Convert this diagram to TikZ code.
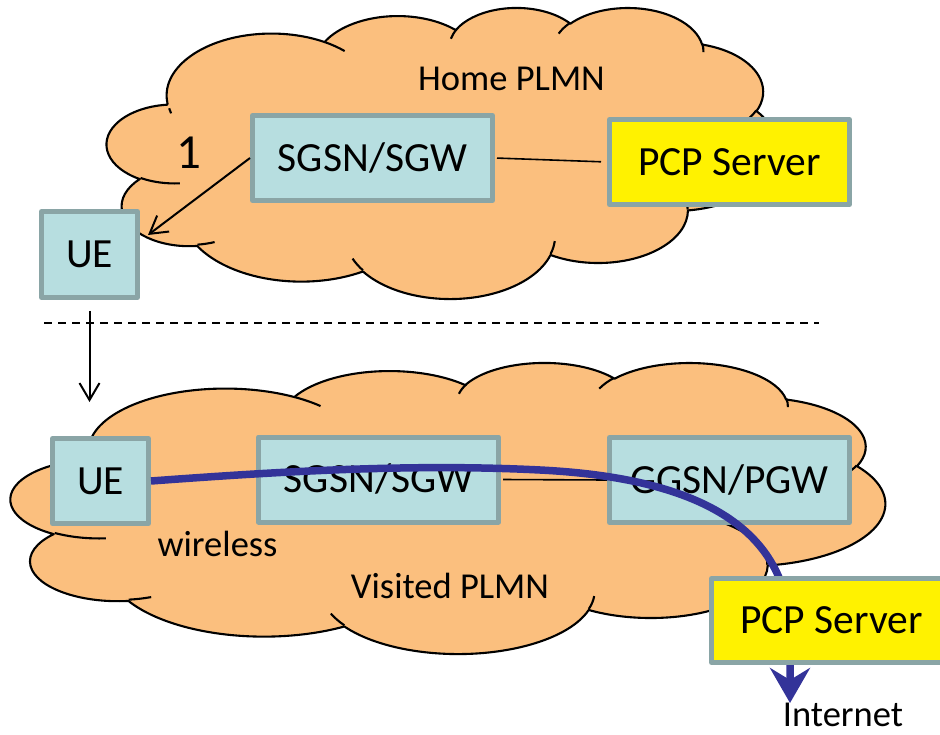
\documentclass[tikz,border=0pt]{standalone}
\usepackage{fontspec}
\setmainfont{Carlito}
\usetikzlibrary{arrows.meta}
\definecolor{cloudfill}{RGB}{251,191,126}
\definecolor{boxfill}{RGB}{183,222,224}
\definecolor{boxline}{RGB}{138,165,166}
\definecolor{pathblue}{RGB}{51,51,153}
\tikzset{declare function={par(\v,\k)=\v+atan(((\k-1)*sin(\v)*cos(\v))/(cos(\v)^2+\k*sin(\v)^2));}}
\newcommand\cldarc[4]{arc[x radius=#1, y radius=#2, start angle={par(#3,#1/#2)}, end angle={par(#3+#4,#1/#2)}]}
\newcommand\cloudoutline{(39.00,143.70)
 \cldarc{67.53}{91.90}{-190.4875}{123.7805}
 \cldarc{53.33}{72.67}{-144.1024}{89.9452}
 \cldarc{43.65}{59.45}{-145.8079}{99.7230}
 \cldarc{48.57}{65.95}{-130.9861}{117.2417}
 \cldarc{53.33}{72.73}{-78.7089}{109.0269}
 \cldarc{67.75}{92.20}{-46.2673}{130.2690}
 \cldarc{57.85}{78.67}{0.6250}{114.0333}
 \cldarc{67.52}{92.15}{22.4516}{115.1726}
 \cldarc{77.20}{105.43}{66.2426}{75.7110}
 \cldarc{43.60}{59.18}{-274.9421}{146.7356}
 \cldarc{43.45}{59.45}{-246.8285}{152.5189}
 -- cycle}
\newcommand\cloudinner{%
 (46.93,261.77) \cldarc{43.45}{59.45}{86.7420}{26.4295}
 (69.28,348.99) \cldarc{43.60}{59.18}{73.6105}{11.4475}
 (164.78,390.90) \cldarc{67.52}{92.15}{137.6242}{14.0811}
 (288.27,347.51) \cldarc{67.52}{92.15}{6.4533}{15.9984}
 (341.29,229.54) \cldarc{57.85}{78.67}{-70.2924}{70.9174}
 (417.98,153.54) \cldarc{53.33}{72.73}{30.3180}{27.7515}
 (383.24,54.26) \cldarc{48.57}{65.95}{-13.7443}{14.8589}
 (290.78,39.52) \cldarc{48.57}{65.95}{-149.1815}{18.1954}
 (221.41,47.20) \cldarc{43.65}{59.45}{-163.4943}{17.6864}
 (140.00,51.92) \cldarc{67.53}{91.90}{-66.7070}{12.3194}
 (41.27,157.89) \cldarc{67.53}{91.90}{159.6315}{6.2465}}
\tikzset{
 cloudline/.style={draw=black, line width=2.1pt, line join=round},
 netbox/.style={draw=boxline, fill=boxfill, line width=5pt, line join=round, inner sep=0pt,
   minimum width=240pt, minimum height=85pt, font=\fontsize{41.5}{50}\selectfont,
   text height=26.7pt, text depth=0pt},
 uebox/.style={netbox, minimum width=96pt, minimum height=86pt},
 pcpbox/.style={netbox, fill=yellow},
 lbl/.style={anchor=base, inner sep=0pt, font=\fontsize{36.5}{44}\selectfont},
 thinarrow/.style={line width=2pt, -{Straight Barb[length=17pt,width=20pt]}},
 plainlink/.style={line width=1.6pt},
 bluepath/.style={draw=pathblue, line width=7.5pt, -{Stealth[length=35pt,width=40pt,inset=12pt]}},
 sepline/.style={line width=1.6pt, dash pattern=on 7.5pt off 6.5pt}
}
\begin{document}
\begin{tikzpicture}[x=1pt, y=-1pt]
\useasboundingbox (0,0) rectangle (940,735);
% top cloud
\begin{scope}[shift={(107,7)}, x=1.55324pt, y=-0.67361pt]
 \path[fill=cloudfill] \cloudoutline;
 \path[cloudline] \cloudoutline;
 \path[cloudline] \cloudinner;
\end{scope}
% bottom cloud
\begin{scope}[shift={(11,362)}, x=2.02315pt, y=-0.67361pt]
 \path[fill=cloudfill] \cloudoutline;
 \path[cloudline] \cloudoutline;
 \path[cloudline] \cloudinner;
\end{scope}
% labels
\node[lbl] (home) at (511.5,91) {Home PLMN};
\node[lbl] (visited) at (450,598) {Visited PLMN};
\node[lbl] (wireless) at (217.5,556) {wireless};
\node[lbl] (internet) at (843,726) {Internet};
\node[lbl, font=\fontsize{49}{58}\selectfont] (one) at (188.5,169) {1};
% top boxes
\node[netbox] (sgsn1) at (372.5,158) {SGSN/SGW};
\node[pcpbox] (pcp1) at (729.5,162) {PCP Server};
\node[uebox] (ue1) at (89.5,254.5) {UE};
\draw[plainlink, shorten <=2pt, shorten >=6pt] (sgsn1.east) -- (pcp1.west);
\coordinate (a1end) at (148,235);
\draw[thinarrow] (sgsn1.west) -- (a1end);
% separator
\coordinate (sepL) at (44,323);
\coordinate (sepR) at (819,323);
\draw[sepline] (sepL) -- (sepR);
\coordinate (downend) at (89.5,402);
\draw[thinarrow, shorten <=11pt] (ue1.south) -- (downend);
% bottom boxes
\node[uebox, minimum height=85pt] (ue2) at (100.5,481) {UE};
\node[netbox] (sgsn2) at (378.5,479.5) {SGSN/SGW};
\node[netbox] (ggsn2) at (729.5,480) {GGSN/PGW};
\draw[plainlink, shorten <=2pt] (sgsn2.east) -- (ggsn2.west);
\coordinate (inet) at (790,703);
\draw[bluepath] (ue2.east) .. controls (300,470) and (420,464) .. (540,470)
  .. controls (700,478) and (783,528) .. (790,625) -- (inet);
\node[pcpbox, minimum height=84pt] (pcp2) at (831.5,620.5) {PCP Server};
\end{tikzpicture}
\end{document}
